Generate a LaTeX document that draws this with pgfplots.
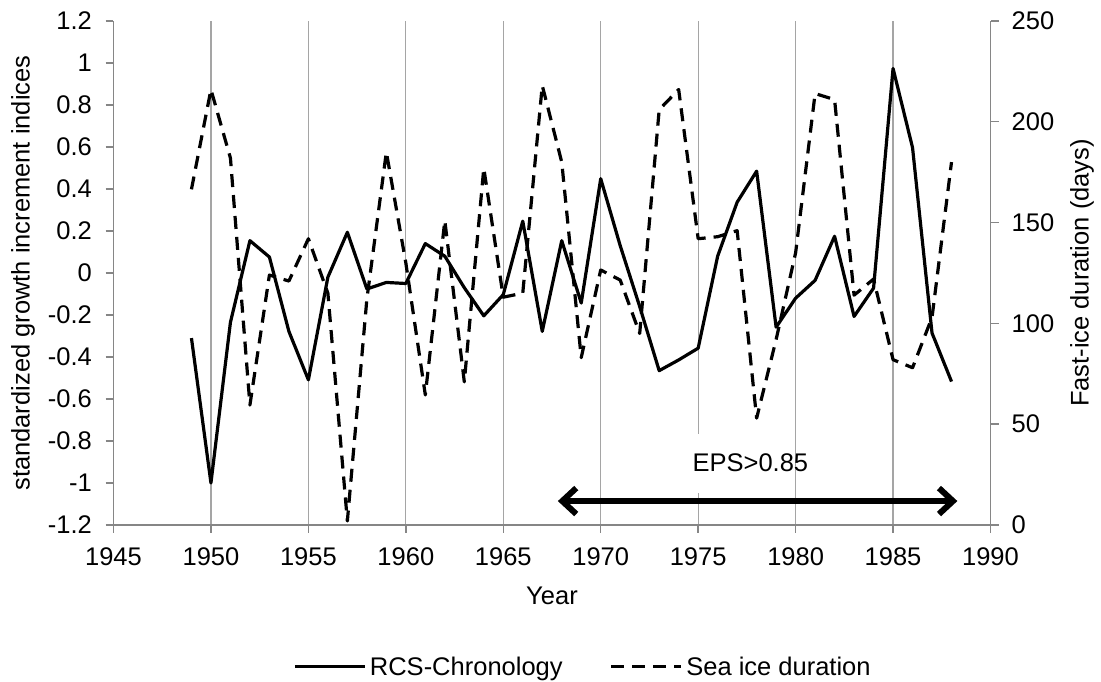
\documentclass[border=0pt]{standalone}
\usepackage{fontspec}
\setmainfont{Liberation Sans}
\usepackage{pgfplots}
\pgfplotsset{compat=1.18}
\usetikzlibrary{arrows.meta}
\newcommand\f{\fontsize{25.5pt}{30pt}\selectfont}
\definecolor{gridgray}{RGB}{165,165,165}
\definecolor{axgray}{RGB}{134,134,134}
\begin{document}
\begin{tikzpicture}
\useasboundingbox (0,0) rectangle (1101pt,682pt);
\begin{axis}[
  at={(113.5pt,157pt)}, anchor=south west,
  scale only axis, width=877pt, height=504pt,
  xmin=1945, xmax=1990, ymin=-1.2, ymax=1.2,
  xtick={1945,1950,...,1990},
  ytick={-1.2,-1,-0.8,-0.6,-0.4,-0.2,0,0.2,0.4,0.6,0.8,1,1.2},
  axis x line*=bottom, axis y line*=left,
  axis line style={axgray, line width=1.4pt, -},
  tick style={axgray, line width=1.4pt},
  tick align=outside, major tick length=8pt,
  xmajorgrids, major grid style={gridgray, line width=1.3pt},
  /pgf/number format/1000 sep={},
  /pgf/number format/assume math mode=true,
  ticklabel style={font=\f, inner sep=0pt},
  xticklabel style={yshift=-14pt},
  yticklabel style={xshift=-13.5pt},
  xlabel={Year},
  xlabel style={font=\f, at={(axis description cs:0.5,-0.1403)}, anchor=center},
  ylabel={standardized growth increment indices},
  ylabel style={font=\f, at={(axis description cs:-0.1032,0.5)}, anchor=center},
  clip=false,
]
\addplot[black, line width=3.2pt, line join=round] coordinates {
(1949,-0.31) (1950,-1.00) (1951,-0.235) (1952,0.154) (1953,0.076)
(1954,-0.278) (1955,-0.509) (1956,-0.02) (1957,0.194) (1958,-0.076)
(1959,-0.045) (1960,-0.05) (1961,0.14) (1962,0.08) (1963,-0.07)
(1964,-0.204) (1965,-0.103) (1966,0.247) (1967,-0.278) (1968,0.154)
(1969,-0.143) (1970,0.449) (1971,0.13) (1972,-0.16) (1973,-0.465)
(1974,-0.414) (1975,-0.358) (1976,0.08) (1977,0.337) (1978,0.485)
(1979,-0.258) (1980,-0.12) (1981,-0.035) (1982,0.175) (1983,-0.207)
(1984,-0.072) (1985,0.974) (1986,0.597) (1987,-0.286) (1988,-0.517)
};
\fill[white] (axis cs:1973.8,-0.765) rectangle (axis cs:1979.8,-1.046);
\node[font=\f, inner sep=0pt] at (axis cs:1977.68,-0.903) {EPS>0.85};
\draw[line width=6pt, {Straight Barb[length=14pt,width=26pt]}-{Straight Barb[length=14pt,width=26pt]}]
  (axis cs:1967.8,-1.086) -- (axis cs:1988.3,-1.086);
\end{axis}
\begin{axis}[
  at={(113.5pt,157pt)}, anchor=south west,
  scale only axis, width=877pt, height=504pt,
  xmin=1945, xmax=1990, ymin=0, ymax=250,
  ytick={0,50,...,250},
  axis x line=none, axis y line*=right,
  axis line style={axgray, line width=1.4pt, -},
  tick style={axgray, line width=1.4pt},
  tick align=outside, major tick length=8pt,
  /pgf/number format/assume math mode=true,
  ticklabel style={font=\f, inner sep=0pt},
  yticklabel style={xshift=13pt},
  ylabel={Fast-ice duration (days)},
  ylabel style={font=\f, at={(axis description cs:1.1043,0.5)}, anchor=center, rotate=0},
  clip=false,
  legend columns=2,
  legend style={draw=none, fill=none, font=\f, at={(axis description cs:0.2047,-0.2812)}, anchor=west,
    inner sep=0pt, nodes={inner sep=3.5pt},
    /tikz/every even column/.append style={column sep=43.5pt}},
  legend image code/.code={\draw[#1] (0pt,0pt) -- (70pt,0pt);},
]
\addlegendimage{black, line width=3.2pt}
\addlegendentry{RCS-Chronology}
\addplot[black, line width=3.2pt, dash pattern=on 13pt off 8pt, line join=round] coordinates {
(1949,166.5) (1950,216) (1951,182) (1952,59.5) (1953,124)
(1954,121) (1955,142) (1956,115) (1957,2) (1958,112)
(1959,185) (1960,130) (1961,64.5) (1962,151) (1963,71)
(1964,177) (1965,113) (1966,115) (1967,218) (1968,180)
(1969,83) (1970,126.5) (1971,121.5) (1972,95) (1973,206)
(1974,216) (1975,142) (1976,143) (1977,146) (1978,53)
(1979,92) (1980,135) (1981,214) (1982,211) (1983,114)
(1984,122) (1985,82) (1986,78) (1987,103) (1988,180)
};
\addlegendentry{Sea ice duration}
\end{axis}
\end{tikzpicture}
\end{document}
